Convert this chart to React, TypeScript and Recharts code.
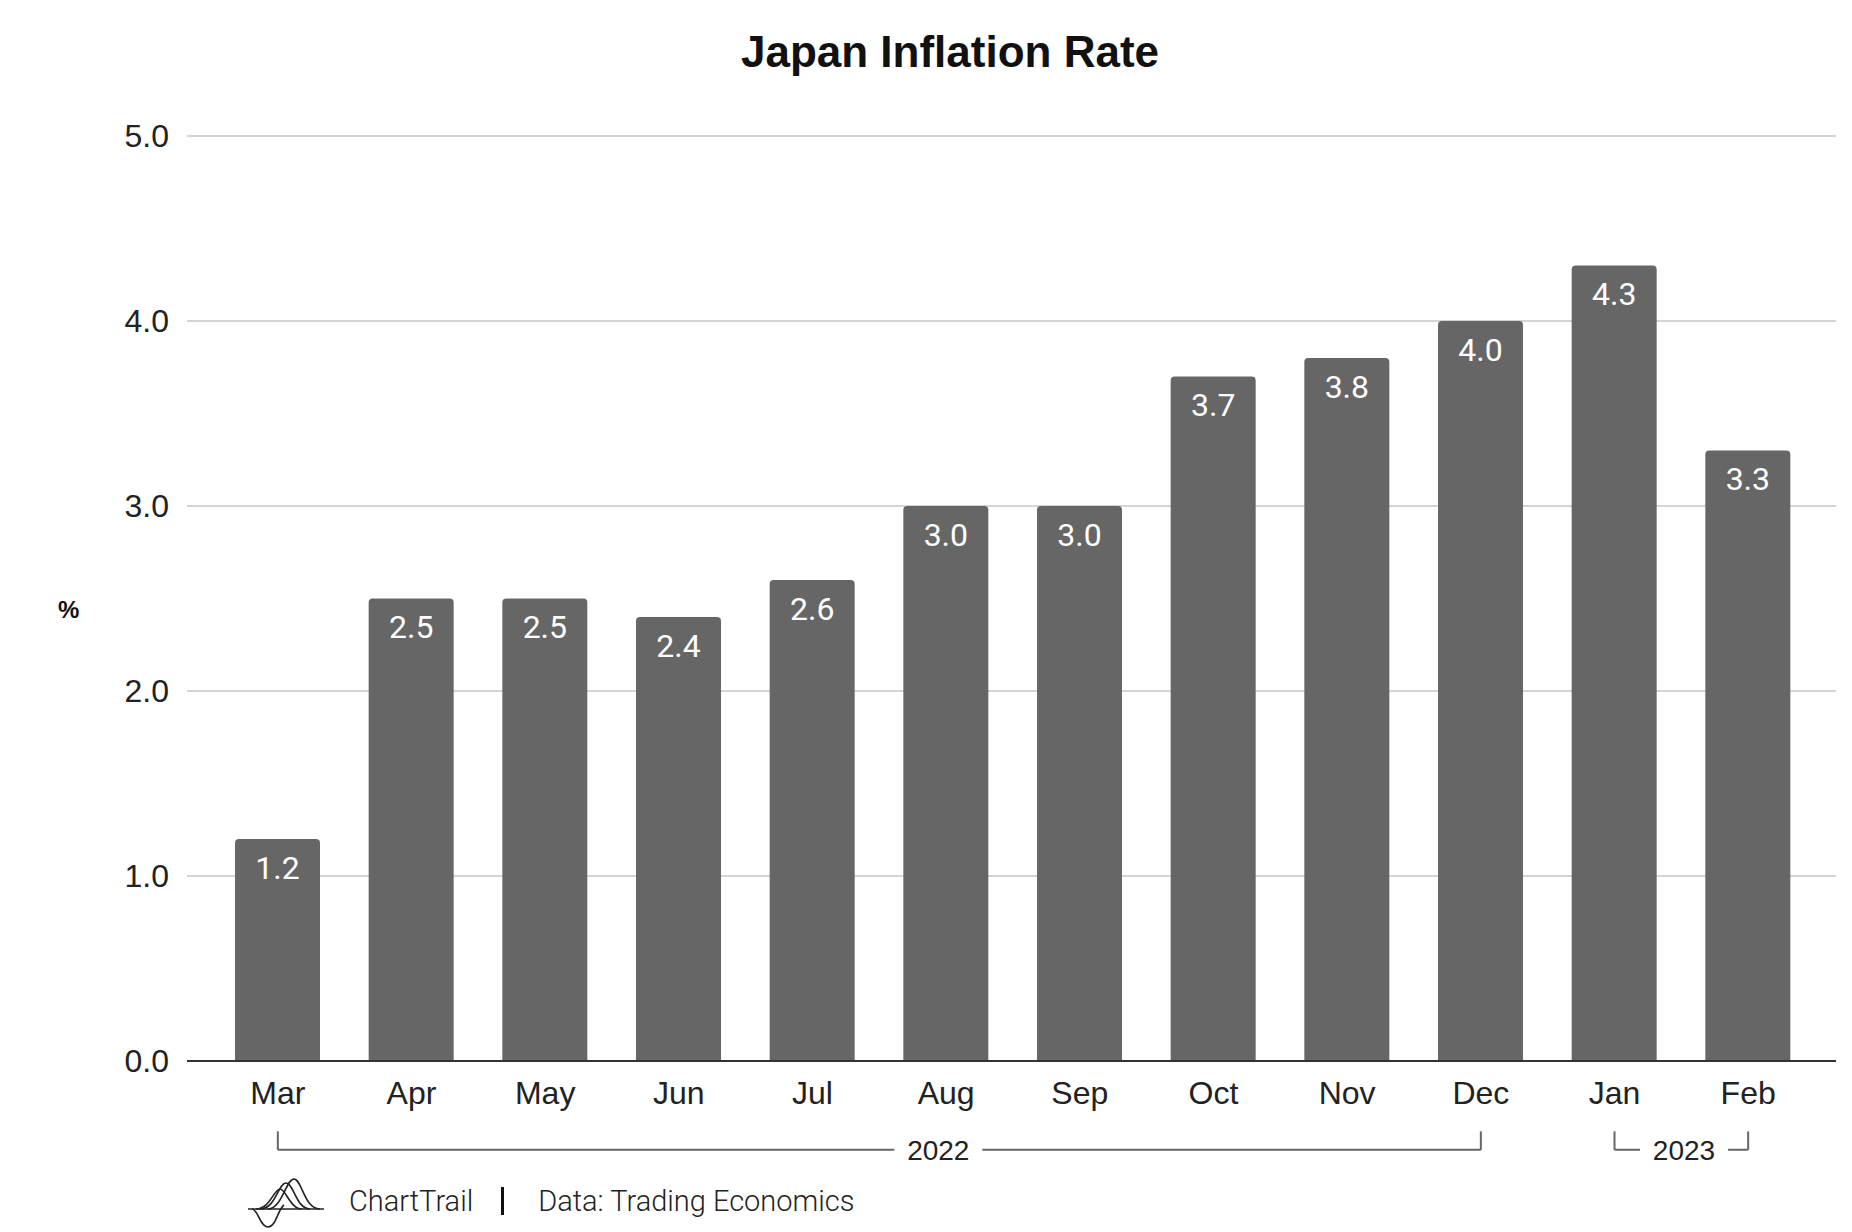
import { Bar, BarChart, CartesianGrid, LabelList, ReferenceLine, XAxis, YAxis } from 'recharts'

const months = ['Mar', 'Apr', 'May', 'Jun', 'Jul', 'Aug', 'Sep', 'Oct', 'Nov', 'Dec', 'Jan', 'Feb']
const inflation = [1.2, 2.5, 2.5, 2.4, 2.6, 3.0, 3.0, 3.7, 3.8, 4.0, 4.3, 3.3]
const yTicks = [0, 1, 2, 3, 4, 5]
const yearLabels = ['2022', '2023']
const yearStart = ['Mar', 'Jan']
const yearEnd = ['Dec', 'Feb']

const data = months.map((month, i) => ({ month, value: inflation[i] }))

const SANS = '"Liberation Sans", Arial, sans-serif'
const BRACKET_Y = -0.48
const BRACKET_TICK = 0.1
const textAt = [0.549, 0.52]

function YearLabel(props: any) {
  const vb = props.viewBox || {}
  if (vb.x == null) return null
  const cx = vb.x + vb.width * props.at
  const cy = vb.y
  return (
    <g>
      <rect x={cx - 44} y={cy - 20} width={88} height={40} fill="#fff" />
      <text x={cx} y={cy + 1} textAnchor="middle" dominantBaseline="central" fontSize={28} fontFamily={SANS} fill="#222">
        {props.text}
      </text>
    </g>
  )
}

function Logo() {
  return (
    <svg width={80} height={52} style={{ position: 'absolute', left: 246, top: 1177 }}>
      <g fill="none" stroke="#222" strokeWidth={1.6}>
        <line x1={2} y1={32} x2={78} y2={32} />
        <path d="M14 32 C 30 32, 32 6, 40 6 C 48 6, 50 32, 64 32" />
        <path d="M22 32 C 36 32, 40 2, 48 2 C 56 2, 58 32, 74 32" />
        <path d="M10 32 C 24 32, 28 12, 34 12 C 40 12, 44 32, 56 32" />
        <path d="M6 32 C 12 32, 14 50, 22 50 C 30 50, 32 32, 38 28" />
      </g>
    </svg>
  )
}

export default function App() {
  return (
    <div style={{ position: 'absolute', left: 0, top: 0, width: 1852, height: 1232, background: '#fff', fontFamily: SANS }}>
      <div
        style={{
          position: 'absolute',
          left: 0,
          width: 1900,
          top: 27,
          textAlign: 'center',
          fontSize: 44,
          fontWeight: 700,
          color: '#111',
        }}
      >
        Japan Inflation Rate
      </div>
      <div style={{ position: 'absolute', left: 58, top: 596, fontSize: 24, fontWeight: 700, color: '#111' }}>%</div>

      <BarChart width={1852} height={1232} data={data} margin={{ top: 136, right: 16, bottom: 111, left: 0 }}>
        <CartesianGrid vertical={false} stroke="#d4d4d4" strokeWidth={2} />
        <XAxis
          dataKey="month"
          height={60}
          padding={{ left: 24, right: 21 }}
          tickLine={false}
          axisLine={{ stroke: '#333', strokeWidth: 2 }}
          tickMargin={14}
          tick={{ fontSize: 32, fill: '#222', fontFamily: SANS }}
          interval={0}
        />
        <YAxis
          width={187}
          domain={[0, 5]}
          ticks={yTicks}
          tickLine={false}
          axisLine={false}
          tickMargin={12}
          tickFormatter={(v: number) => v.toFixed(1)}
          tick={{ fontSize: 32, fill: '#222', fontFamily: SANS }}
        />
        <Bar dataKey="value" fill="#666666" barSize={85} radius={[4, 4, 0, 0]} isAnimationActive={false}>
          <LabelList
            dataKey="value"
            position="insideTop"
            offset={17}
            fill="#ffffff"
            fontSize={32}
            fontFamily="Roboto, sans-serif"
            formatter={(v: any) => Number(v).toFixed(1)}
          />
        </Bar>
        {yearLabels.map((label, i) => (
          <ReferenceLine
            key={label}
            segment={[
              { x: yearStart[i], y: BRACKET_Y },
              { x: yearEnd[i], y: BRACKET_Y },
            ]}
            stroke="#666"
            strokeWidth={2}
            ifOverflow="visible"
            label={(p: any) => <YearLabel {...p} text={label} at={textAt[i]} />}
          />
        ))}
        {[...yearStart, ...yearEnd].map((m, i) => (
          <ReferenceLine
            key={`tick-${i}`}
            segment={[
              { x: m, y: BRACKET_Y },
              { x: m, y: BRACKET_Y + BRACKET_TICK },
            ]}
            stroke="#666"
            strokeWidth={2}
            ifOverflow="visible"
          />
        ))}
      </BarChart>

      <Logo />
      <div
        style={{
          position: 'absolute',
          top: 1184,
          left: 349,
          fontSize: 29,
          fontFamily: 'Roboto, sans-serif',
          fontWeight: 300,
          color: '#222',
          display: 'flex',
          alignItems: 'center',
          whiteSpace: 'nowrap',
        }}
      >
        <span>ChartTrail</span>
        <span style={{ display: 'inline-block', width: 3, height: 28, background: '#111', margin: '0 34px 0 28px' }} />
        <span>Data: Trading Economics</span>
      </div>
    </div>
  )
}
